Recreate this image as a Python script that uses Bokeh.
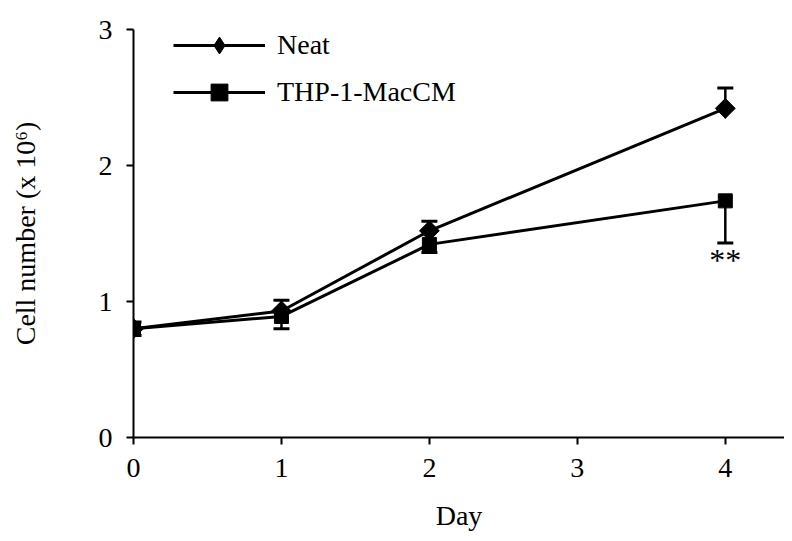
import math
from bokeh.plotting import figure
from bokeh.models import (ColumnDataSource, Range1d, Whisker, TeeHead, Legend,
                          LegendItem, FixedTicker)
from bokeh.core.properties import value
from bokeh.embed import file_html
from bokeh.resources import INLINE

days = [0, 1, 2, 4]
neat = [0.80, 0.93, 1.52, 2.42]
neat_err = [0.05, 0.08, 0.07, 0.15]
thp = [0.80, 0.89, 1.42, 1.74]
thp_err = [0.05, 0.09, 0.06, 0.31]
x_ticks = [0, 1, 2, 3, 4]
y_ticks = [0, 1, 2, 3]
series_names = ["Neat", "THP-1-MacCM"]
sig_label = "**"
sig_day = 4
sig_y = 1.44

FONT = "Liberation Serif"

p = figure(width=784, height=533, output_backend="svg", toolbar_location=None,
           x_range=Range1d(0, 4.4), y_range=Range1d(0, 3),
           min_border_left=133, min_border_right=0, min_border_top=29,
           min_border_bottom=96)
p.outline_line_color = None
p.xgrid.visible = False
p.ygrid.visible = False

for ax in (p.xaxis[0], p.yaxis[0]):
    ax.axis_line_color = "black"
    ax.axis_line_width = 2
    ax.major_tick_line_color = "black"
    ax.major_tick_line_width = 2
    ax.major_tick_out = 7
    ax.major_tick_in = 0
    ax.minor_tick_line_color = None
    ax.major_label_text_font = FONT
    ax.major_label_text_font_size = "28px"
    ax.major_label_text_color = "black"
    ax.axis_label_text_font = FONT
    ax.axis_label_text_font_size = "28px"
    ax.axis_label_text_font_style = "normal"
    ax.axis_label_text_color = "black"

p.xaxis.ticker = FixedTicker(ticks=x_ticks)
p.yaxis.ticker = FixedTicker(ticks=y_ticks)
p.xaxis.axis_label = "Day"
p.yaxis.axis_label = "Cell number (x 10\u2076)"
p.xaxis.major_label_standoff = 14
p.xaxis.axis_label_standoff = 20
p.yaxis.major_label_standoff = 14
p.yaxis.axis_label_standoff = 55

src_n = ColumnDataSource(dict(x=days, y=neat,
                              up=[a + b for a, b in zip(neat, neat_err)]))
src_t = ColumnDataSource(dict(x=days, y=thp,
                              lo=[a - b for a, b in zip(thp, thp_err)]))

ln_n = p.line("x", "y", source=src_n, line_color="black", line_width=3)
ln_t = p.line("x", "y", source=src_t, line_color="black", line_width=3)

w_n = Whisker(source=src_n, base="x", lower="y", upper="up", dimension="height",
              line_color="black", line_width=2.5,
              upper_head=TeeHead(size=16, line_color="black", line_width=3),
              lower_head=None)
w_t = Whisker(source=src_t, base="x", lower="lo", upper="y", dimension="height",
              line_color="black", line_width=2.5,
              lower_head=TeeHead(size=16, line_color="black", line_width=3),
              upper_head=None)
p.add_layout(w_n)
p.add_layout(w_t)

# diamond used for the legend swatch (hidden beneath the plotted diamonds)
mk_n_leg = p.scatter("x", "y", source=src_n, marker="diamond", size=20,
                     fill_color="black", line_color="black", line_width=1)
mk_n = p.scatter("x", "y", source=src_n, marker="square", size=14,
                 angle=math.pi / 4, fill_color="black", line_color="black")
mk_t = p.scatter("x", "y", source=src_t, marker="square", size=14,
                 fill_color="black", line_color="black")

p.text(x=[sig_day], y=[sig_y], text=[sig_label], text_font=value(FONT),
       text_font_size="32px", text_align="center", text_baseline="top",
       text_color="black")

legend = Legend(items=[LegendItem(label=series_names[0], renderers=[ln_n, mk_n_leg]),
                       LegendItem(label=series_names[1], renderers=[ln_t, mk_t])],
                location=(40, 324), orientation="vertical",
                glyph_width=92, glyph_height=42, label_height=42, spacing=5,
                label_standoff=12, padding=0, margin=0,
                border_line_color=None, background_fill_alpha=0,
                label_text_font=FONT, label_text_font_size="28px",
                label_text_color="black")
p.add_layout(legend)

open("out.html", "w").write(file_html(p, INLINE))
